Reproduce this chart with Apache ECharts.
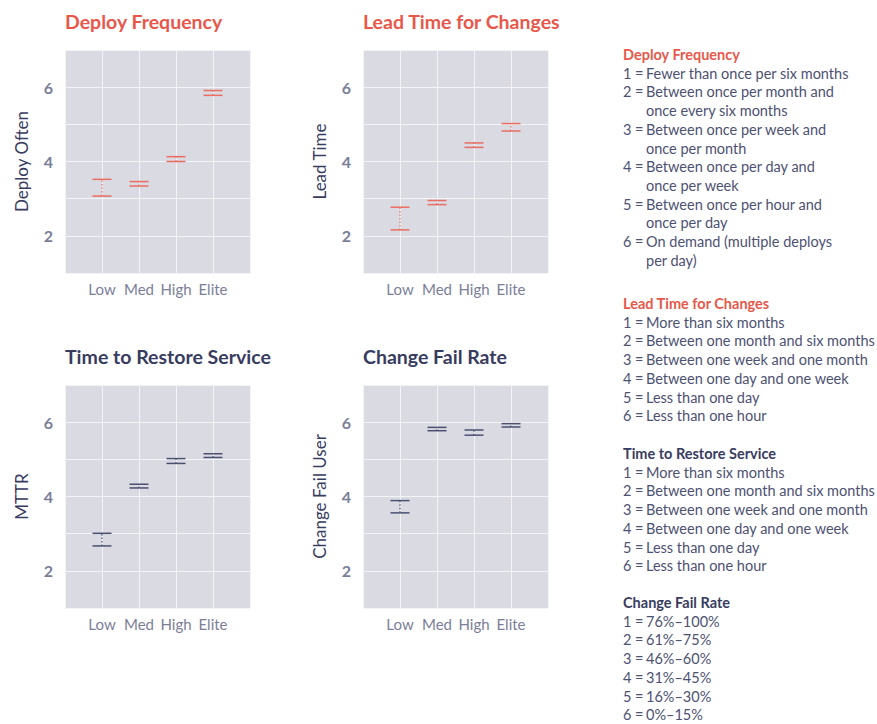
<!DOCTYPE html>
<html><head><meta charset="utf-8">
<script src="https://cdn.jsdelivr.net/npm/echarts@6/dist/echarts.min.js"></script>
<style>html,body{margin:0;padding:0;background:#fff}#c{width:877px;height:724px}</style>
</head><body><div id="c"></div>
<script>
const categories = ['Low', 'Med', 'High', 'Elite'];
const yTicks = [2, 4, 6];

const deployLow = [3.07, 3.34, 4.00, 5.78];
const deployHigh = [3.52, 3.46, 4.13, 5.91];
const leadLow = [2.16, 2.84, 4.38, 4.82];
const leadHigh = [2.77, 2.95, 4.50, 5.02];
const mttrLow = [2.67, 4.23, 4.89, 5.05];
const mttrHigh = [3.01, 4.33, 5.02, 5.15];
const cfrLow = [3.56, 5.77, 5.65, 5.87];
const cfrHigh = [3.89, 5.86, 5.79, 5.96];

const panelTitles = ['Deploy Frequency', 'Lead Time for Changes', 'Time to Restore Service', 'Change Fail Rate'];
const yNames = ['Deploy Often', 'Lead Time', 'MTTR', 'Change Fail User'];

const deployLegend = [
  ['1 =', 'Fewer than once per six months'],
  ['2 =', 'Between once per month and', 'once every six months'],
  ['3 =', 'Between once per week and', 'once per month'],
  ['4 =', 'Between once per day and', 'once per week'],
  ['5 =', 'Between once per hour and', 'once per day'],
  ['6 =', 'On demand (multiple deploys', 'per day)']
];
const leadLegend = [
  ['1 =', 'More than six months'],
  ['2 =', 'Between one month and six months'],
  ['3 =', 'Between one week and one month'],
  ['4 =', 'Between one day and one week'],
  ['5 =', 'Less than one day'],
  ['6 =', 'Less than one hour']
];
const mttrLegend = [
  ['1 =', 'More than six months'],
  ['2 =', 'Between one month and six months'],
  ['3 =', 'Between one week and one month'],
  ['4 =', 'Between one day and one week'],
  ['5 =', 'Less than one day'],
  ['6 =', 'Less than one hour']
];
const cfrLegend = [
  ['1 =', '76%–100%'],
  ['2 =', '61%–75%'],
  ['3 =', '46%–60%'],
  ['4 =', '31%–45%'],
  ['5 =', '16%–30%'],
  ['6 =', '0%–15%']
];

const RED = '#e8584a';
const NAVY = '#383c5f';
const BAR_RED = '#ea6d62';
const BAR_NAVY = '#4d5070';
const TXT = '#4d5172';
const AX = '#7b7e98';
const BG = '#d9dae2';
const FONT = 'Lato, "Open Sans", sans-serif';

const grids = [
  {left: 65, top: 50, width: 185, height: 223},
  {left: 363, top: 50, width: 185, height: 223},
  {left: 65, top: 385, width: 185, height: 223},
  {left: 363, top: 385, width: 185, height: 223}
];
const seriesData = [[deployLow, deployHigh], [leadLow, leadHigh], [mttrLow, mttrHigh], [cfrLow, cfrHigh]];
const barColors = [BAR_RED, BAR_RED, BAR_NAVY, BAR_NAVY];
const titleColors = [RED, RED, NAVY, NAVY];

const option = {
  animation: false,
  backgroundColor: '#ffffff',
  title: grids.map((g, i) => ({
    text: panelTitles[i], left: g.left, top: g.top - 39, padding: 0,
    textStyle: {fontFamily: FONT, fontWeight: 'bold', fontSize: 19.5, color: titleColors[i]}
  })),
  grid: grids.map(g => Object.assign({show: true, backgroundColor: BG, borderWidth: 0}, g)),
  xAxis: grids.map((g, i) => ({
    type: 'value', gridIndex: i, min: 0, max: 5, interval: 1,
    axisLine: {show: false}, axisTick: {show: false},
    splitLine: {show: true, lineStyle: {color: '#f4f4f7', width: 1}},
    axisLabel: {
      margin: 8, color: AX, fontFamily: FONT, fontSize: 15,
      formatter: v => categories[v - 1] || ''
    }
  })),
  yAxis: grids.map((g, i) => ({
    type: 'value', gridIndex: i, min: 1, max: 7, interval: 1,
    name: yNames[i], nameLocation: 'middle', nameRotate: 90, nameGap: 35,
    nameTextStyle: {fontFamily: FONT, fontSize: 17, color: NAVY},
    axisLine: {show: false}, axisTick: {show: false},
    splitLine: {show: true, lineStyle: {color: '#f4f4f7', width: 1}},
    axisLabel: {
      margin: 12, color: AX, fontFamily: FONT, fontSize: 16, fontWeight: 'bold',
      formatter: v => yTicks.indexOf(v) >= 0 ? String(v) : ''
    }
  })),
  series: seriesData.map((d, i) => ({
    type: 'custom', xAxisIndex: i, yAxisIndex: i,
    data: categories.map((c, k) => [k + 1, d[0][k], d[1][k]]),
    renderItem: (params, api) => {
      const lo = api.coord([api.value(0), api.value(1)]);
      const hi = api.coord([api.value(0), api.value(2)]);
      const hw = 9.5;
      const col = barColors[i];
      return {
        type: 'group',
        children: [
          {type: 'line', shape: {x1: lo[0] - hw, y1: lo[1], x2: lo[0] + hw, y2: lo[1]}, style: {stroke: col, lineWidth: 1.5}},
          {type: 'line', shape: {x1: hi[0] - hw, y1: hi[1], x2: hi[0] + hw, y2: hi[1]}, style: {stroke: col, lineWidth: 1.5}},
          {type: 'line', shape: {x1: lo[0], y1: lo[1], x2: hi[0], y2: hi[1]}, style: {stroke: col, lineWidth: 1.2, lineDash: [1.5, 2]}}
        ]
      };
    }
  })),
  graphic: []
};

// legend text blocks on the right
const blocks = [
  {title: 'Deploy Frequency', color: RED, items: deployLegend, y: 56},
  {title: 'Lead Time for Changes', color: RED, items: leadLegend, y: 305},
  {title: 'Time to Restore Service', color: NAVY, items: mttrLegend, y: 455},
  {title: 'Change Fail Rate', color: NAVY, items: cfrLegend, y: 604}
];
const LH = 18.7;
blocks.forEach(b => {
  let y = b.y;
  option.graphic.push({type: 'text', left: 623, top: y - 9, style: {text: b.title, fill: b.color, font: 'bold 14.5px ' + FONT}});
  b.items.forEach(it => {
    for (let j = 1; j < it.length; j++) {
      y += LH;
      if (j === 1) option.graphic.push({type: 'text', left: 623, top: y - 9, style: {text: it[0], fill: TXT, font: '14.5px ' + FONT}});
      option.graphic.push({type: 'text', left: 646, top: y - 9, style: {text: it[j], fill: TXT, font: '14.5px ' + FONT}});
    }
  });
});

const chart = echarts.init(document.getElementById('c'), null, {renderer: 'svg'});
chart.setOption(option);
</script>
</body></html>
